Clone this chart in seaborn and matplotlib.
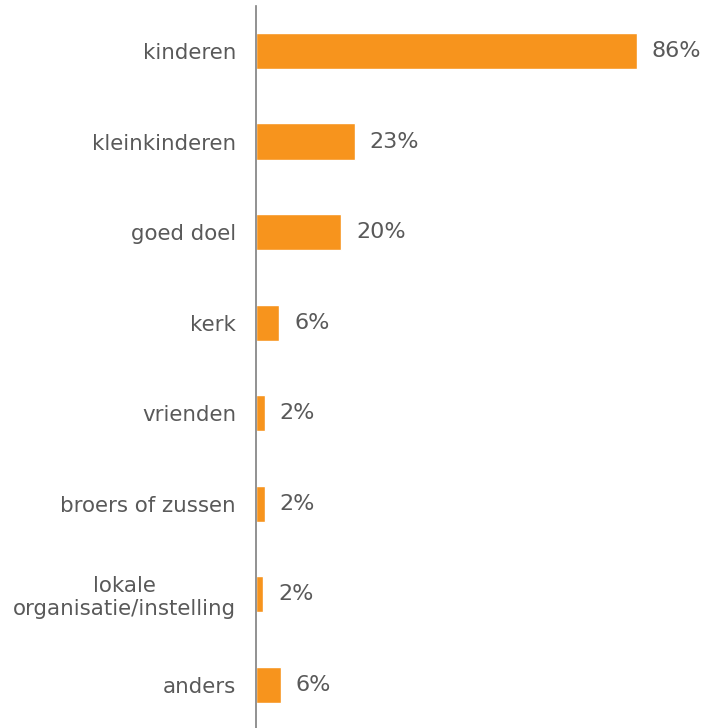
import numpy as np
import pandas as pd
import matplotlib
matplotlib.use('Agg')
import matplotlib.pyplot as plt
import seaborn as sns

sns.set_style("white")
matplotlib.rcParams['font.family'] = ['DejaVu Sans']

categories = ['kinderen', 'kleinkinderen', 'goed doel', 'kerk', 'vrienden',
              'broers of zussen', 'lokale\norganisatie/instelling', 'anders']
values = [86, 22.3, 19.2, 5.2, 2.0, 2.0, 1.6, 5.6]
labels = ['86%', '23%', '20%', '6%', '2%', '2%', '2%', '6%']

df = pd.DataFrame({'cat': categories, 'val': values})

bar_col = '#F7941D'
txt_col = '#595959'

fig = plt.figure(figsize=(7.05, 7.28), dpi=100)
ax = fig.add_axes([0.3631, -0.003, 0.6284, 0.9952])
sns.barplot(data=df, y='cat', x='val', orient='h', color=bar_col,
            saturation=1, width=0.4, ax=ax)
ax.set_xlim(0, 100)
ax.set_ylim(7.5, -0.5)
ax.set_xlabel('')
ax.set_ylabel('')
ax.set_xticks([])
for s in ['top', 'right', 'bottom']:
    ax.spines[s].set_visible(False)
ax.spines['left'].set_color('#7f7f7f')
ax.spines['left'].set_linewidth(1.2)
ax.tick_params(axis='y', length=0, pad=14.4, labelsize=15.4, labelcolor=txt_col)
for t in ax.get_yticklabels():
    t.set_multialignment('center')
    t.set_linespacing(1.15)

for i, (v, lab) in enumerate(zip(values, labels)):
    ax.annotate(lab, (v, i), xytext=(10.8, 0), textcoords='offset points',
                ha='left', va='center', fontsize=16, color=txt_col)

plt.savefig('out.png', dpi=100)
